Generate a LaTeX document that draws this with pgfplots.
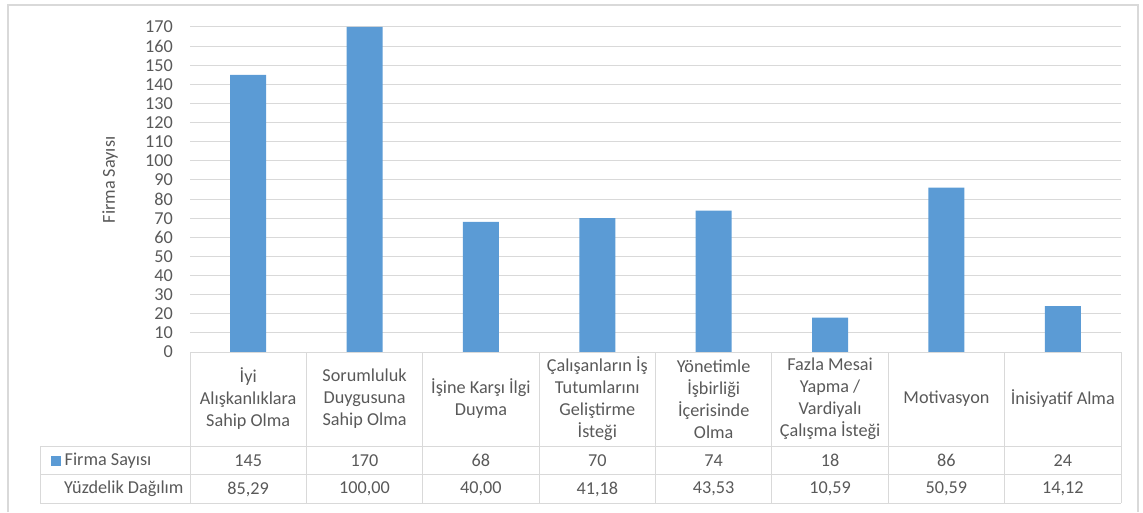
\documentclass[border=0pt]{standalone}
\usepackage{pgfplots}
\pgfplotsset{compat=1.18}
\usepackage{pgfplotstable}
\usepackage{fontspec}
\setmainfont{Carlito}
\definecolor{barblue}{HTML}{5B9BD5}
\definecolor{txt}{HTML}{595959}
\definecolor{rule}{HTML}{D9D9D9}

% x: category index, firma: number of firms, yuzde: percentage share
\pgfplotstableread{
x firma yuzde
1 145 85.29
2 170 100.00
3 68 40.00
4 70 41.18
5 74 43.53
6 18 10.59
7 86 50.59
8 24 14.12
}\datatable

\newcommand{\fs}{\fontsize{18.2}{22}\selectfont}

\begin{document}
\begin{tikzpicture}
\path[use as bounding box] (0,0) rectangle (1143pt,512pt);

\begin{axis}[
  at={(190pt,160pt)}, anchor=south west,
  scale only axis, width=931pt, height=325pt,
  xmin=0.5, xmax=8.5, ymin=0, ymax=170,
  ybar, bar width=36pt,
  axis line style={draw=none},
  xtick=\empty,
  ytick={0,10,...,170},
  ymajorgrids, major grid style={rule, line width=1pt},
  major tick length=0pt,
  /pgf/number format/assume math mode=true,
  yticklabel style={font=\fs, color=txt, inner sep=0pt, xshift=-17pt},
  clip=false,
]
\addplot[fill=barblue, draw=none] table[x=x, y=firma]{\datatable};
\end{axis}

\begin{scope}[x=1pt, y=-1pt, shift={(0pt,512pt)}]
  % outer frame
  \draw[rule, line width=1.2pt] (8,512) -- (8,5) -- (1138,5) -- (1138,512);
  % y axis title
  \node[rotate=90, color=txt, font=\fs] at (110,180) {Firma Sayısı};
  % data table grid
  \begin{scope}[rule, line width=1pt]
    \draw (190,352) -- (1121,352);
    \draw (40,446) -- (1121,446);
    \draw (40,474.5) -- (1121,474.5);
    \draw (40,503) -- (1121,503);
    \draw (40,446) -- (40,503);
    \foreach \i in {0,...,8} {
      \draw ({190+\i*116.375},352) -- ({190+\i*116.375},503);
    }
  \end{scope}
  % row headers
  \fill[barblue] (50.5,455.5) rectangle (60.5,465.5);
  \node[anchor=west, inner sep=0pt, color=txt, font=\fs] at (64.5,460.5) {Firma Sayısı};
  \node[anchor=west, inner sep=0pt, color=txt, font=\fs] at (64,489) {Yüzdelik Dağılım};
  % category names
  \foreach \lab [count=\k from 0] in {
      {İyi\\Alışkanlıklara\\Sahip Olma},
      {Sorumluluk\\Duygusuna\\Sahip Olma},
      {İşine Karşı İlgi\\Duyma},
      {Çalışanların İş\\Tutumlarını\\Geliştirme\\İsteği},
      {Yönetimle\\İşbirliği\\İçerisinde\\Olma},
      {Fazla Mesai\\Yapma /\\Vardiyalı\\Çalışma İsteği},
      {Motivasyon},
      {İnisiyatif Alma}} {
    \node[align=center, color=txt, font=\fs, inner sep=0pt] at ({190+(\k+0.5)*116.375},399) {\lab};
  }
  % table values
  \foreach \k in {0,...,7} {
    \pgfplotstablegetelem{\k}{firma}\of\datatable
    \node[color=txt, font=\fs, inner sep=0pt] at ({190+(\k+0.5)*116.375},460.5)
      {\pgfmathprintnumber[fixed, precision=0, assume math mode=true]{\pgfplotsretval}};
    \pgfplotstablegetelem{\k}{yuzde}\of\datatable
    \node[color=txt, font=\fs, inner sep=0pt] at ({190+(\k+0.5)*116.375},489)
      {\pgfmathprintnumber[fixed, fixed zerofill, precision=2, use comma, assume math mode=true]{\pgfplotsretval}};
  }
\end{scope}
\end{tikzpicture}
\end{document}
